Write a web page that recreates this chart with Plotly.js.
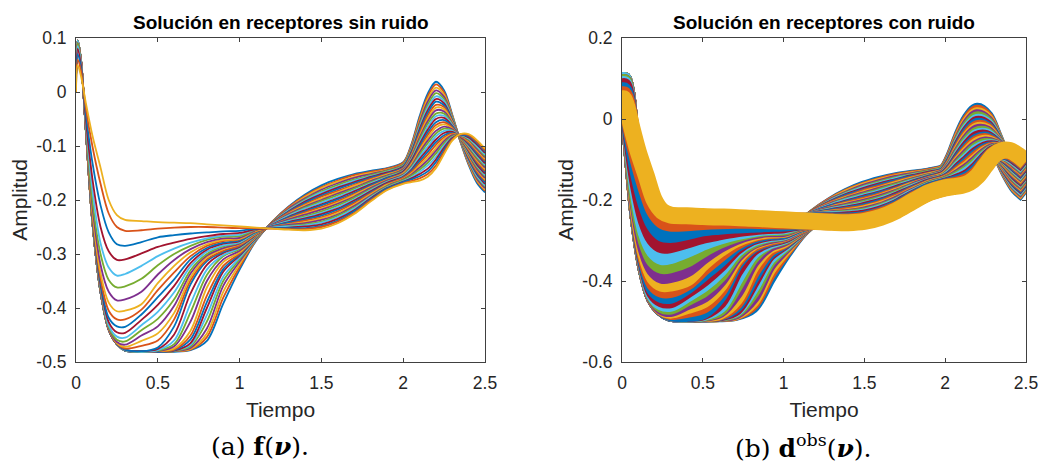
<!DOCTYPE html>
<html>
<head>
<meta charset="utf-8">
<script src="https://cdn.plot.ly/plotly-3.0.1.min.js"></script>
<style>html,body{margin:0;padding:0;background:#fff;}#chart{width:1049px;height:463px;}</style>
</head>
<body>
<div id="chart"></div>
<script>
// Sample times (Tiempo)
const tiempo = [0, 0.01, 0.03, 0.06, 0.1, 0.15, 0.2, 0.25, 0.3, 0.4, 0.5, 0.6, 0.7, 0.8, 0.9, 1.0, 1.1, 1.2, 1.3, 1.4, 1.5, 1.6, 1.7, 1.8, 1.9, 2.0, 2.05, 2.1, 2.15, 2.2, 2.25, 2.3, 2.35, 2.4, 2.45, 2.5];

// Amplitud per receptor (r00 = shallowest trough, r30 = deepest trough)
const r00 = [0, 0.05, 0.03, -0.02, -0.08, -0.14, -0.2, -0.228, -0.237, -0.239, -0.241, -0.242, -0.243, -0.245, -0.247, -0.249, -0.251, -0.253, -0.255, -0.256, -0.253, -0.243, -0.226, -0.203, -0.182, -0.17, -0.167, -0.164, -0.157, -0.141, -0.115, -0.09, -0.078, -0.078, -0.089, -0.105];
const r01 = [0, 0.06, 0.04, -0.03, -0.1, -0.17, -0.225, -0.25, -0.257, -0.256, -0.253, -0.251, -0.25, -0.25, -0.251, -0.252, -0.252, -0.253, -0.254, -0.254, -0.25, -0.24, -0.224, -0.201, -0.181, -0.169, -0.165, -0.16, -0.152, -0.136, -0.111, -0.088, -0.078, -0.08, -0.092, -0.108];
const r02 = [0, 0.07, 0.045, -0.04, -0.13, -0.21, -0.26, -0.282, -0.285, -0.278, -0.269, -0.265, -0.262, -0.26, -0.258, -0.257, -0.253, -0.252, -0.252, -0.252, -0.248, -0.238, -0.221, -0.199, -0.179, -0.167, -0.162, -0.156, -0.147, -0.13, -0.107, -0.087, -0.079, -0.082, -0.094, -0.11];
const r03 = [0.01, 0.08, 0.05, -0.05, -0.16, -0.25, -0.295, -0.311, -0.31, -0.299, -0.287, -0.279, -0.272, -0.267, -0.263, -0.261, -0.254, -0.252, -0.251, -0.249, -0.245, -0.235, -0.219, -0.197, -0.178, -0.166, -0.16, -0.152, -0.142, -0.125, -0.103, -0.085, -0.079, -0.084, -0.097, -0.113];
const r04 = [0.02, 0.085, 0.055, -0.055, -0.18, -0.28, -0.325, -0.34, -0.337, -0.322, -0.304, -0.29, -0.279, -0.271, -0.266, -0.264, -0.254, -0.251, -0.249, -0.247, -0.242, -0.232, -0.216, -0.195, -0.177, -0.165, -0.158, -0.148, -0.136, -0.12, -0.099, -0.084, -0.08, -0.086, -0.1, -0.116];
const r05 = [0.02, 0.09, 0.055, -0.06, -0.2, -0.3, -0.348, -0.362, -0.36, -0.346, -0.321, -0.3, -0.285, -0.274, -0.268, -0.267, -0.255, -0.251, -0.248, -0.245, -0.24, -0.229, -0.214, -0.194, -0.175, -0.163, -0.155, -0.144, -0.131, -0.114, -0.095, -0.082, -0.08, -0.088, -0.102, -0.119];
const r06 = [0.02, 0.09, 0.058, -0.065, -0.21, -0.32, -0.37, -0.386, -0.384, -0.37, -0.338, -0.311, -0.291, -0.278, -0.271, -0.27, -0.256, -0.25, -0.246, -0.243, -0.237, -0.227, -0.211, -0.192, -0.174, -0.162, -0.153, -0.14, -0.126, -0.109, -0.091, -0.08, -0.081, -0.089, -0.105, -0.121];
const r07 = [0.02, 0.09, 0.06, -0.065, -0.22, -0.335, -0.39, -0.406, -0.405, -0.393, -0.354, -0.322, -0.297, -0.282, -0.274, -0.272, -0.257, -0.25, -0.245, -0.241, -0.234, -0.224, -0.209, -0.19, -0.172, -0.161, -0.151, -0.136, -0.121, -0.104, -0.087, -0.079, -0.081, -0.091, -0.107, -0.124];
const r08 = [0.02, 0.09, 0.06, -0.068, -0.225, -0.345, -0.405, -0.421, -0.421, -0.403, -0.367, -0.334, -0.304, -0.285, -0.276, -0.273, -0.258, -0.25, -0.244, -0.238, -0.232, -0.221, -0.206, -0.188, -0.171, -0.159, -0.148, -0.132, -0.116, -0.098, -0.084, -0.077, -0.082, -0.093, -0.11, -0.127];
const r09 = [0.02, 0.09, 0.06, -0.068, -0.23, -0.352, -0.418, -0.434, -0.435, -0.412, -0.38, -0.347, -0.31, -0.289, -0.279, -0.275, -0.259, -0.249, -0.242, -0.236, -0.229, -0.218, -0.204, -0.186, -0.17, -0.158, -0.146, -0.128, -0.111, -0.093, -0.08, -0.076, -0.082, -0.095, -0.113, -0.129];
const r10 = [0.02, 0.09, 0.06, -0.07, -0.232, -0.357, -0.426, -0.445, -0.446, -0.422, -0.394, -0.359, -0.317, -0.292, -0.281, -0.276, -0.259, -0.249, -0.241, -0.234, -0.226, -0.216, -0.201, -0.184, -0.168, -0.157, -0.144, -0.124, -0.106, -0.088, -0.076, -0.074, -0.083, -0.097, -0.115, -0.132];
const r11 = [0.02, 0.095, 0.06, -0.07, -0.235, -0.36, -0.432, -0.453, -0.455, -0.432, -0.407, -0.371, -0.323, -0.296, -0.284, -0.278, -0.26, -0.248, -0.239, -0.232, -0.224, -0.213, -0.199, -0.182, -0.167, -0.155, -0.141, -0.12, -0.101, -0.082, -0.072, -0.072, -0.083, -0.099, -0.118, -0.135];
const r12 = [0.02, 0.095, 0.06, -0.07, -0.237, -0.363, -0.435, -0.459, -0.462, -0.441, -0.42, -0.384, -0.33, -0.3, -0.286, -0.279, -0.261, -0.248, -0.238, -0.23, -0.221, -0.21, -0.196, -0.18, -0.166, -0.154, -0.139, -0.116, -0.095, -0.077, -0.068, -0.071, -0.084, -0.101, -0.121, -0.137];
const r13 = [0.02, 0.095, 0.06, -0.07, -0.238, -0.365, -0.437, -0.463, -0.468, -0.451, -0.434, -0.396, -0.336, -0.303, -0.289, -0.281, -0.262, -0.247, -0.236, -0.227, -0.218, -0.207, -0.194, -0.178, -0.164, -0.153, -0.137, -0.112, -0.09, -0.072, -0.064, -0.069, -0.084, -0.103, -0.123, -0.14];
const r14 = [0.02, 0.095, 0.06, -0.07, -0.24, -0.367, -0.438, -0.465, -0.472, -0.461, -0.447, -0.409, -0.343, -0.306, -0.291, -0.282, -0.263, -0.247, -0.235, -0.225, -0.216, -0.205, -0.191, -0.176, -0.163, -0.151, -0.134, -0.108, -0.085, -0.066, -0.06, -0.068, -0.085, -0.105, -0.126, -0.143];
const r15 = [0.02, 0.095, 0.06, -0.07, -0.24, -0.368, -0.439, -0.466, -0.475, -0.47, -0.46, -0.421, -0.349, -0.31, -0.294, -0.284, -0.264, -0.247, -0.234, -0.223, -0.213, -0.202, -0.189, -0.175, -0.162, -0.15, -0.132, -0.105, -0.08, -0.061, -0.056, -0.066, -0.085, -0.107, -0.129, -0.146];
const r16 = [0.02, 0.095, 0.06, -0.07, -0.24, -0.37, -0.44, -0.467, -0.477, -0.48, -0.473, -0.434, -0.356, -0.313, -0.296, -0.285, -0.264, -0.246, -0.232, -0.221, -0.21, -0.199, -0.187, -0.173, -0.16, -0.149, -0.13, -0.101, -0.075, -0.056, -0.052, -0.064, -0.085, -0.108, -0.131, -0.148];
const r17 = [0.02, 0.095, 0.06, -0.07, -0.24, -0.37, -0.44, -0.467, -0.477, -0.48, -0.476, -0.449, -0.373, -0.32, -0.298, -0.287, -0.265, -0.246, -0.231, -0.219, -0.208, -0.197, -0.184, -0.171, -0.159, -0.147, -0.127, -0.097, -0.07, -0.05, -0.048, -0.063, -0.086, -0.11, -0.134, -0.151];
const r18 = [0.02, 0.095, 0.06, -0.07, -0.24, -0.37, -0.44, -0.467, -0.478, -0.481, -0.478, -0.46, -0.392, -0.329, -0.302, -0.289, -0.266, -0.245, -0.229, -0.216, -0.205, -0.194, -0.182, -0.169, -0.158, -0.146, -0.125, -0.093, -0.065, -0.045, -0.044, -0.061, -0.086, -0.112, -0.136, -0.154];
const r19 = [0.02, 0.095, 0.06, -0.07, -0.24, -0.37, -0.44, -0.467, -0.478, -0.481, -0.479, -0.467, -0.408, -0.339, -0.304, -0.291, -0.267, -0.245, -0.228, -0.214, -0.202, -0.191, -0.179, -0.167, -0.156, -0.145, -0.123, -0.089, -0.059, -0.04, -0.04, -0.06, -0.087, -0.114, -0.139, -0.156];
const r20 = [0.02, 0.095, 0.06, -0.07, -0.24, -0.37, -0.44, -0.467, -0.478, -0.481, -0.48, -0.471, -0.425, -0.35, -0.31, -0.294, -0.268, -0.244, -0.226, -0.212, -0.2, -0.188, -0.177, -0.165, -0.155, -0.143, -0.12, -0.085, -0.054, -0.034, -0.036, -0.058, -0.087, -0.116, -0.142, -0.159];
const r21 = [0.02, 0.095, 0.06, -0.07, -0.24, -0.37, -0.44, -0.467, -0.478, -0.481, -0.48, -0.475, -0.442, -0.362, -0.315, -0.297, -0.269, -0.244, -0.225, -0.21, -0.197, -0.186, -0.174, -0.163, -0.153, -0.142, -0.118, -0.081, -0.049, -0.029, -0.032, -0.056, -0.088, -0.118, -0.144, -0.162];
const r22 = [0.02, 0.095, 0.06, -0.07, -0.24, -0.37, -0.44, -0.467, -0.478, -0.481, -0.48, -0.477, -0.451, -0.377, -0.322, -0.299, -0.269, -0.243, -0.223, -0.208, -0.194, -0.183, -0.172, -0.161, -0.152, -0.141, -0.116, -0.077, -0.044, -0.024, -0.028, -0.055, -0.088, -0.12, -0.147, -0.164];
const r23 = [0.02, 0.095, 0.06, -0.07, -0.24, -0.37, -0.44, -0.467, -0.479, -0.481, -0.481, -0.478, -0.458, -0.389, -0.328, -0.301, -0.27, -0.243, -0.222, -0.205, -0.192, -0.18, -0.169, -0.159, -0.151, -0.139, -0.113, -0.073, -0.039, -0.018, -0.025, -0.053, -0.089, -0.122, -0.15, -0.167];
const r24 = [0.02, 0.095, 0.06, -0.07, -0.24, -0.37, -0.44, -0.467, -0.479, -0.481, -0.481, -0.479, -0.465, -0.4, -0.333, -0.303, -0.271, -0.242, -0.221, -0.203, -0.189, -0.177, -0.167, -0.157, -0.149, -0.138, -0.111, -0.069, -0.034, -0.013, -0.021, -0.052, -0.089, -0.124, -0.152, -0.17];
const r25 = [0.02, 0.095, 0.06, -0.07, -0.24, -0.37, -0.44, -0.467, -0.479, -0.481, -0.481, -0.479, -0.468, -0.413, -0.342, -0.307, -0.272, -0.242, -0.219, -0.201, -0.186, -0.175, -0.164, -0.156, -0.148, -0.137, -0.109, -0.065, -0.029, -0.008, -0.017, -0.05, -0.09, -0.126, -0.155, -0.173];
const r26 = [0.02, 0.095, 0.06, -0.07, -0.24, -0.37, -0.44, -0.467, -0.479, -0.481, -0.481, -0.48, -0.471, -0.425, -0.35, -0.31, -0.273, -0.241, -0.218, -0.199, -0.184, -0.172, -0.162, -0.154, -0.146, -0.135, -0.106, -0.061, -0.024, -0.002, -0.013, -0.048, -0.09, -0.127, -0.157, -0.175];
const r27 = [0.02, 0.095, 0.06, -0.07, -0.24, -0.37, -0.44, -0.467, -0.479, -0.481, -0.481, -0.48, -0.474, -0.438, -0.359, -0.314, -0.274, -0.241, -0.216, -0.197, -0.181, -0.169, -0.159, -0.152, -0.145, -0.134, -0.104, -0.057, -0.018, 0.003, -0.009, -0.047, -0.091, -0.129, -0.16, -0.178];
const r28 = [0.02, 0.095, 0.06, -0.07, -0.24, -0.37, -0.44, -0.467, -0.479, -0.481, -0.481, -0.48, -0.476, -0.447, -0.37, -0.319, -0.274, -0.241, -0.215, -0.194, -0.178, -0.166, -0.157, -0.15, -0.144, -0.133, -0.102, -0.053, -0.013, 0.008, -0.005, -0.045, -0.091, -0.131, -0.163, -0.181];
const r29 = [0.02, 0.095, 0.06, -0.07, -0.24, -0.37, -0.44, -0.467, -0.479, -0.481, -0.481, -0.48, -0.477, -0.454, -0.381, -0.324, -0.275, -0.24, -0.213, -0.192, -0.176, -0.164, -0.154, -0.148, -0.142, -0.131, -0.099, -0.049, -0.008, 0.014, -0.001, -0.044, -0.092, -0.133, -0.165, -0.183];
const r30 = [0.02, 0.095, 0.06, -0.07, -0.24, -0.37, -0.44, -0.467, -0.479, -0.481, -0.481, -0.481, -0.478, -0.461, -0.392, -0.329, -0.276, -0.24, -0.212, -0.19, -0.173, -0.161, -0.152, -0.146, -0.141, -0.13, -0.097, -0.045, -0.003, 0.019, 0.003, -0.042, -0.092, -0.135, -0.168, -0.186];

// Tick values / labels
const xTicks = [0, 0.5, 1, 1.5, 2, 2.5];
const xTickText = ['0', '0.5', '1', '1.5', '2', '2.5'];
const yTicksA = [-0.5, -0.4, -0.3, -0.2, -0.1, 0, 0.1];
const yTickTextA = ['-0.5', '-0.4', '-0.3', '-0.2', '-0.1', '0', '0.1'];
const yTicksB = [-0.6, -0.4, -0.2, 0, 0.2];
const yTickTextB = ['-0.6', '-0.4', '-0.2', '0', '0.2'];

// Texts
const tituloA = 'Solución en receptores sin ruido';
const tituloB = 'Solución en receptores con ruido';
const etiquetaX = 'Tiempo';
const etiquetaY = 'Amplitud';
const leyendaA = '(a) <b>f</b>(<b><i>ν</i></b>).';
const leyendaB = '(b) <b>d</b><sup>obs</sup>(<b><i>ν</i></b>).';

const receptores = [r00, r01, r02, r03, r04, r05, r06, r07, r08, r09, r10, r11, r12, r13, r14, r15, r16, r17, r18, r19, r20, r21, r22, r23, r24, r25, r26, r27, r28, r29, r30];
const colores = ['#0072BD', '#D95319', '#EDB120', '#7E2F8E', '#77AC30', '#4DBEEE', '#A2142F'];

const W = 1049, H = 463;
const data = [];
const n = receptores.length;
// plotting order: deepest first, shallowest last (on top)
for (let k = 0; k < n; k++) {
  const serie = receptores[n - 1 - k];
  data.push({x: tiempo, y: serie, type: 'scatter', mode: 'lines', xaxis: 'x', yaxis: 'y',
    line: {color: colores[k % 7], width: 1.8, shape: 'spline', smoothing: 0.9}, hoverinfo: 'skip'});
}
for (let k = 0; k < n; k++) {
  const serie = receptores[n - 1 - k];
  data.push({x: tiempo, y: serie, type: 'scatter', mode: 'lines', xaxis: 'x2', yaxis: 'y2',
    line: {color: colores[k % 7], width: 17, shape: 'spline', smoothing: 0.9}, hoverinfo: 'skip'});
}

const font = 'Liberation Sans, Arial, Helvetica, sans-serif';
const axisCommon = {
  showgrid: false, zeroline: false, showline: true, linecolor: '#404040', linewidth: 1,
  mirror: 'ticks', ticks: 'inside', ticklen: 4, tickcolor: '#404040', tickwidth: 1,
  tickfont: {family: font, size: 17.5, color: '#262626'}, ticklabelstandoff: 5
};
const titleFont = {family: font, size: 21, color: '#262626'};
const yDom = [1 - 362 / H, 1 - 38 / H];
const layout = {
  width: W, height: H, margin: {l: 0, r: 0, t: 0, b: 0},
  paper_bgcolor: '#ffffff', plot_bgcolor: '#ffffff', showlegend: false,
  xaxis: Object.assign({}, axisCommon, {domain: [76 / W, 485 / W], range: [0, 2.5], tickvals: xTicks, ticktext: xTickText, anchor: 'y',
    title: {text: etiquetaX, font: titleFont, standoff: 10}}),
  yaxis: Object.assign({}, axisCommon, {domain: yDom, range: [-0.5, 0.1], tickvals: yTicksA, ticktext: yTickTextA, anchor: 'x',
    title: {text: etiquetaY, font: titleFont, standoff: 2}}),
  xaxis2: Object.assign({}, axisCommon, {domain: [622 / W, 1026 / W], range: [0, 2.5], tickvals: xTicks, ticktext: xTickText, anchor: 'y2',
    title: {text: etiquetaX, font: titleFont, standoff: 10}}),
  yaxis2: Object.assign({}, axisCommon, {domain: yDom, range: [-0.6, 0.2], tickvals: yTicksB, ticktext: yTickTextB, anchor: 'x2',
    title: {text: etiquetaY, font: titleFont, standoff: 2}}),
  annotations: [
    {text: '<b>' + tituloA + '</b>', xref: 'paper', yref: 'paper', x: 280.5 / W, y: 1 - 23 / H, xanchor: 'center', yanchor: 'middle', showarrow: false,
      font: {family: font, size: 19, color: '#000000'}},
    {text: '<b>' + tituloB + '</b>', xref: 'paper', yref: 'paper', x: 824 / W, y: 1 - 23 / H, xanchor: 'center', yanchor: 'middle', showarrow: false,
      font: {family: font, size: 19, color: '#000000'}},
    {text: leyendaA, xref: 'paper', yref: 'paper', x: 260 / W, y: 1 - 446 / H, xanchor: 'center', yanchor: 'middle', showarrow: false,
      font: {family: 'DejaVu Serif, Liberation Serif, serif', size: 25, color: '#000000'}},
    {text: leyendaB, xref: 'paper', yref: 'paper', x: 803 / W, y: 1 - 446 / H, xanchor: 'center', yanchor: 'middle', showarrow: false,
      font: {family: 'DejaVu Serif, Liberation Serif, serif', size: 25, color: '#000000'}}
  ]
};

Plotly.newPlot('chart', data, layout, {staticPlot: true, displayModeBar: false});
</script>
</body>
</html>
